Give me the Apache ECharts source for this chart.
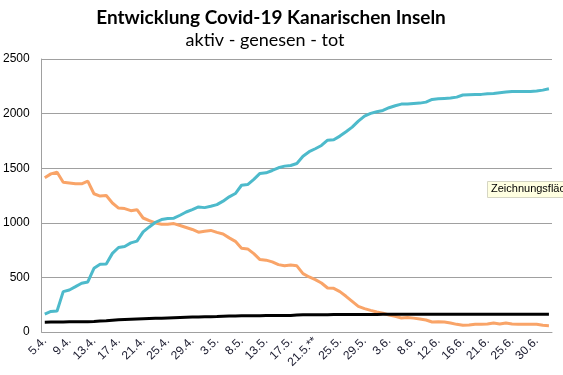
<!DOCTYPE html>
<html>
<head>
<meta charset="utf-8">
<script src="https://cdn.jsdelivr.net/npm/echarts@6/dist/echarts.min.js"></script>
<style>
  html, body { margin: 0; padding: 0; background: #fff; }
  #chart { width: 563px; height: 375px; }
</style>
</head>
<body>
<div id="chart"></div>
<script>
// Datum (Tage ohne Meldung fehlen)
var dates = ['5.4.', '6.4.', '7.4.', '8.4.', '9.4.', '10.4.', '11.4.', '12.4.', '13.4.', '14.4.',
  '15.4.', '16.4.', '17.4.', '18.4.', '19.4.', '20.4.', '21.4.', '22.4.', '23.4.', '24.4.',
  '25.4.', '26.4.', '27.4.', '28.4.', '29.4.', '30.4.', '1.5.', '2.5.', '3.5.', '4.5.',
  '5.5.', '7.5.', '8.5.', '9.5.', '11.5.', '12.5.', '13.5.', '14.5.', '15.5.', '16.5.',
  '17.5.', '18.5.', '19.5.', '20.5.', '21.5.**', '22.5.', '23.5.', '24.5.', '25.5.', '26.5.',
  '27.5.', '28.5.', '29.5.', '30.5.', '1.6.', '2.6.', '3.6.', '4.6.', '5.6.', '6.6.',
  '8.6.', '9.6.', '10.6.', '11.6.', '12.6.', '13.6.', '14.6.', '15.6.', '16.6.', '17.6.',
  '18.6.', '19.6.', '21.6.', '22.6.', '23.6.', '24.6.', '25.6.', '26.6.', '27.6.', '29.6.',
  '30.6.', '1.7.', '2.7.']

var aktiv = [1412, 1448, 1463, 1372, 1365, 1357, 1357, 1381, 1266, 1245,
  1250, 1181, 1135, 1130, 1111, 1120, 1044, 1020, 998, 987,
  987, 993, 975, 957, 939, 914, 923, 930, 912, 898,
  862, 830, 766, 761, 718, 663, 658, 642, 617, 606,
  614, 606, 535, 504, 480, 449, 403, 400, 370, 327,
  281, 235, 214, 198, 183, 172, 156, 143, 128, 133,
  127, 119, 110, 92, 94, 92, 83, 70, 61, 64,
  70, 70, 73, 82, 73, 82, 73, 70, 70, 70,
  70, 61, 58]

var genesen = [164, 188, 193, 370, 385, 415, 446, 458, 583, 620,
  623, 720, 774, 783, 816, 832, 917, 962, 1005, 1030,
  1039, 1042, 1069, 1099, 1121, 1145, 1139, 1151, 1166, 1198,
  1238, 1268, 1344, 1350, 1397, 1452, 1458, 1479, 1504, 1519,
  1525, 1543, 1610, 1651, 1678, 1708, 1757, 1760, 1794, 1834,
  1876, 1931, 1977, 2002, 2017, 2029, 2054, 2072, 2087, 2087,
  2093, 2096, 2105, 2130, 2136, 2139, 2142, 2151, 2170, 2173,
  2176, 2176, 2182, 2185, 2191, 2197, 2203, 2203, 2203, 2203,
  2206, 2215, 2228]

var tot = [90, 91, 92, 92, 93, 93, 93, 94, 97, 101,
  104, 108, 112, 115, 117, 119, 121, 123, 125, 127,
  129, 131, 133, 135, 137, 138, 139, 140, 141, 144,
  146, 147, 148, 148, 149, 149, 150, 150, 150, 151,
  151, 155, 157, 158, 158, 159, 159, 160, 160, 160,
  160, 160, 161, 161, 161, 162, 162, 162, 162, 162,
  162, 162, 162, 162, 162, 162, 162, 162, 162, 162,
  162, 162, 162, 162, 162, 162, 162, 162, 162, 162,
  162, 162, 162]

var myChart = echarts.init(document.getElementById('chart'))

var option = {
  backgroundColor: '#fff',
  animation: false,
  textStyle: { fontFamily: 'Liberation Sans' },
  grid: {
    left: 40,
    right: 11,
    top: 59,
    bottom: 43
  },
  graphic: [
    {
      type: 'text',
      x: 271,
      y: 8,
      style: {
        text: 'Entwicklung Covid-19 Kanarischen Inseln',
        font: 'bold 19px Lato',
        fill: '#000',
        textAlign: 'center'
      }
    },
    {
      type: 'text',
      x: 265,
      y: 31,
      style: {
        text: 'aktiv - genesen - tot',
        font: '18px Lato',
        fill: '#000',
        textAlign: 'center'
      }
    },
    // hängengebliebener Tooltip aus dem Original
    {
      type: 'rect',
      shape: { x: 487.5, y: 181.5, width: 90, height: 16 },
      style: { fill: '#ffffe1', stroke: '#d6d6c4', lineWidth: 1 },
      z: 100
    },
    {
      type: 'text',
      x: 491,
      y: 183,
      style: {
        text: 'Zeichnungsfläche',
        font: '11px "Liberation Sans"',
        fill: '#000'
      },
      z: 101
    }
  ],
  xAxis: {
    type: 'category',
    data: dates,
    boundaryGap: true,
    axisLine: { lineStyle: { color: '#a0a0a0' } },
    axisTick: { show: false },
    axisLabel: {
      interval: 3,
      rotate: 45,
      fontSize: 12,
      color: '#1a1a2e',
      margin: 7
    },
    splitLine: { show: false }
  },
  yAxis: {
    type: 'value',
    min: 0,
    max: 2500,
    interval: 500,
    axisLine: { show: true, lineStyle: { color: '#a0a0a0' } },
    axisTick: { show: false },
    axisLabel: {
      fontSize: 12,
      color: '#000',
      margin: 12,
      formatter: function (value) {
        return String(value)
      }
    },
    splitLine: { lineStyle: { color: '#a0a0a0' } }
  },
  series: [
    {
      name: 'aktiv',
      type: 'line',
      data: aktiv,
      symbol: 'none',
      color: '#f9a468',
      lineStyle: { width: 3, color: '#f9a468' }
    },
    {
      name: 'genesen',
      type: 'line',
      data: genesen,
      symbol: 'none',
      color: '#4dbacb',
      lineStyle: { width: 3, color: '#4dbacb' }
    },
    {
      name: 'tot',
      type: 'line',
      data: tot,
      symbol: 'none',
      color: '#000',
      lineStyle: { width: 3, color: '#000' }
    }
  ]
}

myChart.setOption(option)
</script>
</body>
</html>
